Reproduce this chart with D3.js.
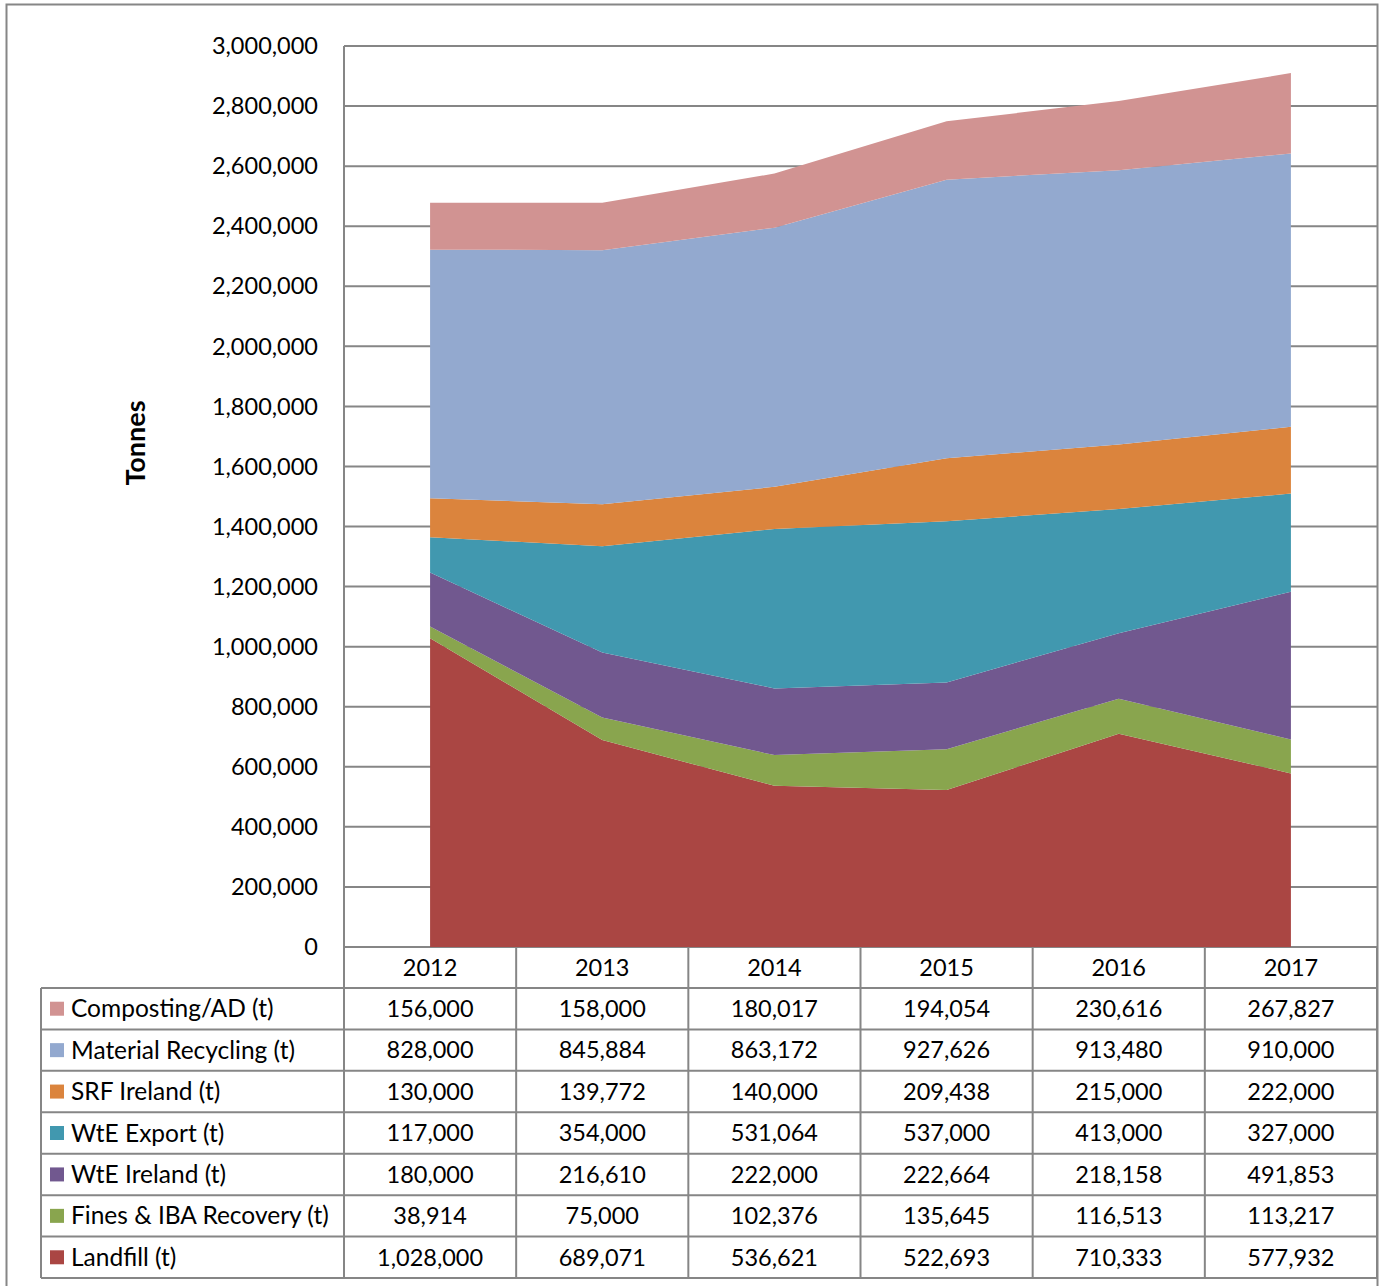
<!DOCTYPE html>
<html><head><meta charset="utf-8">
<script src="https://cdn.jsdelivr.net/npm/d3@7"></script>
<style>body{margin:0;background:#fff}svg{display:block}text{font-family:Lato,"Open Sans",sans-serif;fill:#000}</style>
</head><body>
<script>
const years = ["2012","2013","2014","2015","2016","2017"];
const seriesNames = ["Composting/AD (t)","Material Recycling (t)","SRF Ireland (t)","WtE Export (t)","WtE Ireland (t)","Fines & IBA Recovery (t)","Landfill (t)"];
const composting = [156000,158000,180017,194054,230616,267827];
const recycling = [828000,845884,863172,927626,913480,910000];
const srf = [130000,139772,140000,209438,215000,222000];
const wteExport = [117000,354000,531064,537000,413000,327000];
const wteIreland = [180000,216610,222000,222664,218158,491853];
const fines = [38914,75000,102376,135645,116513,113217];
const landfill = [1028000,689071,536621,522693,710333,577932];
const colors = ["#D19392","#93A9CF","#DB843D","#4198AF","#71588F","#89A54E","#AA4643"];
const yTicks = [0,200000,400000,600000,800000,1000000,1200000,1400000,1600000,1800000,2000000,2200000,2400000,2600000,2800000,3000000];

const tableSeries = [composting,recycling,srf,wteExport,wteIreland,fines,landfill];
const W=1383,H=1286;
const svg=d3.select("body").append("svg").attr("width",W).attr("height",H);
const grid="#868686";
svg.append("rect").attr("x",6.5).attr("y",4.5).attr("width",1371).attr("height",1290).attr("fill","none").attr("stroke",grid).attr("stroke-width",2);

const L=344,R=1377,T=46,B=947;
const x=d3.scaleBand().domain(years).range([L,R]);
const y=d3.scaleLinear().domain([0,3000000]).range([B,T]);

svg.append("g").selectAll("line").data(yTicks).join("line")
 .attr("x1",L).attr("x2",R).attr("y1",d=>y(d)).attr("y2",d=>y(d))
 .attr("stroke",grid).attr("stroke-width",2);
svg.append("line").attr("x1",L).attr("x2",L).attr("y1",T).attr("y2",B).attr("stroke",grid).attr("stroke-width",2);

const rows=years.map((yr,i)=>({year:yr,landfill:landfill[i],fines:fines[i],wteIreland:wteIreland[i],wteExport:wteExport[i],srf:srf[i],recycling:recycling[i],composting:composting[i]}));
const keys=["landfill","fines","wteIreland","wteExport","srf","recycling","composting"];
const keyColor={landfill:colors[6],fines:colors[5],wteIreland:colors[4],wteExport:colors[3],srf:colors[2],recycling:colors[1],composting:colors[0]};
const stack=d3.stack().keys(keys)(rows);
const area=d3.area().x(d=>x(d.data.year)+x.bandwidth()/2).y0(d=>y(d[0])).y1(d=>y(d[1]));
svg.append("g").selectAll("path").data(stack).join("path")
 .attr("d",area).attr("fill",d=>keyColor[d.key]);

const fmt=d3.format(",");
const numSize=23.5, lblSize=24.5;
svg.append("g").selectAll("text").data(yTicks).join("text")
 .attr("x",318).attr("y",d=>y(d)).attr("dy","0.35em").attr("text-anchor","end")
 .attr("font-size",numSize).text(d=>fmt(d));
svg.append("text").attr("transform","translate(136,443) rotate(-90)").attr("text-anchor","middle")
 .attr("dy","0.35em").attr("font-size",27).attr("font-weight","bold").text("Tonnes");

const hdrB=988, rowH=(1278-988)/7;
const TL=41;
svg.append("g").selectAll("text").data(years).join("text")
 .attr("x",d=>x(d)+x.bandwidth()/2).attr("y",(B+hdrB)/2).attr("dy","0.35em").attr("text-anchor","middle")
 .attr("font-size",numSize).text(d=>d);
const tg=svg.append("g");
for(let r=0;r<=7;r++){
  const yy=hdrB+r*rowH;
  tg.append("line").attr("x1",TL).attr("x2",R).attr("y1",yy).attr("y2",yy).attr("stroke",grid).attr("stroke-width",2);
}
years.forEach((yr,i)=>{
  tg.append("line").attr("x1",x(yr)).attr("x2",x(yr)).attr("y1",B).attr("y2",1278).attr("stroke",grid).attr("stroke-width",2);
});
tg.append("line").attr("x1",R).attr("x2",R).attr("y1",B).attr("y2",1278).attr("stroke",grid).attr("stroke-width",2);
tg.append("line").attr("x1",TL).attr("x2",TL).attr("y1",hdrB).attr("y2",1278).attr("stroke",grid).attr("stroke-width",2);

seriesNames.forEach((nm,r)=>{
  const cy=hdrB+r*rowH+rowH/2;
  tg.append("rect").attr("x",50).attr("y",cy-7).attr("width",14).attr("height",14).attr("fill",colors[r]);
  tg.append("text").attr("x",71).attr("y",cy).attr("dy","0.35em").attr("font-size",lblSize).text(nm);
  tableSeries[r].forEach((v,i)=>{
    tg.append("text").attr("x",x(years[i])+x.bandwidth()/2).attr("y",cy).attr("dy","0.35em")
      .attr("text-anchor","middle").attr("font-size",numSize).text(fmt(v));
  });
});
</script>
</body></html>
